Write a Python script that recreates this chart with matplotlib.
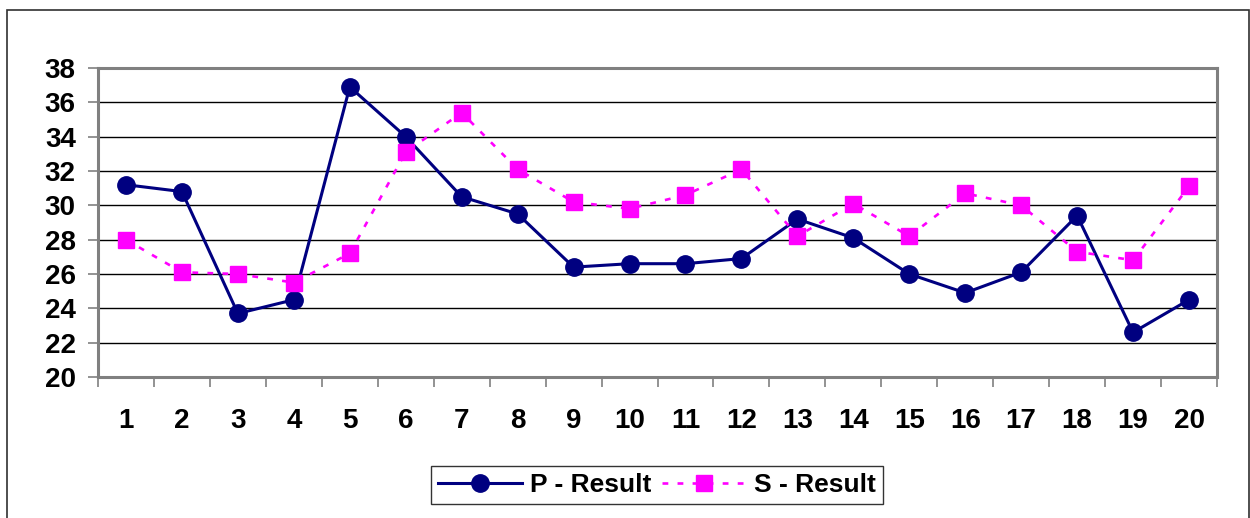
import matplotlib
matplotlib.use("Agg")
import matplotlib.pyplot as plt
from matplotlib.patches import Rectangle

categories = [str(i) for i in range(1, 21)]
p_result = [31.2, 30.8, 23.7, 24.5, 36.9, 34.0, 30.5, 29.5, 26.4, 26.6,
            26.6, 26.9, 29.2, 28.1, 26.0, 24.9, 26.1, 29.4, 22.6, 24.5]
s_result = [28.0, 26.1, 26.0, 25.5, 27.2, 33.1, 35.4, 32.1, 30.2, 29.8,
            30.6, 32.1, 28.2, 30.1, 28.2, 30.7, 30.0, 27.3, 26.8, 31.1]
y_ticks = [20, 22, 24, 26, 28, 30, 32, 34, 36, 38]

plt.rcParams['font.family'] = ['Liberation Sans', 'DejaVu Sans']

fig = plt.figure(figsize=(12.5, 5.18), dpi=100)
ax = fig.add_axes([98/1250, 1-377/518, (1217-98)/1250, (377-68)/518])

x = list(range(len(categories)))
ax.plot(x, p_result, color='#000080', lw=2.2, marker='o', ms=12.5,
        markerfacecolor='#000080', markeredgecolor='#000080', label='P - Result', zorder=3)
ax.plot(x, s_result, color='#FF00FF', lw=1.9, ls=(0, (2.2, 3.5)), marker='s', ms=12,
        markerfacecolor='#FF00FF', markeredgecolor='#FF00FF', label='S - Result', zorder=3)

ax.set_xlim(-0.5, len(categories) - 0.5)
ax.set_ylim(20, 38)
ax.set_yticks(y_ticks)
ax.set_yticklabels([str(v) for v in y_ticks], fontsize=20, fontweight='bold')
ax.set_xticks(x)
ax.set_xticklabels(categories, fontsize=20, fontweight='bold')
ax.set_xticks([i - 0.5 for i in range(len(categories) + 1)], minor=True)
ax.tick_params(axis='x', which='major', length=0, pad=22)
ax.tick_params(axis='x', which='minor', length=7, width=1.2, color='#808080', direction='out')
ax.tick_params(axis='y', length=7, width=1.2, color='#808080', direction='out', pad=9)

ax.grid(axis='y', color='black', lw=1.0, zorder=0)
ax.set_axisbelow(True)
for s in ax.spines.values():
    s.set_color('#808080')
    s.set_linewidth(2.2)

leg = ax.legend(loc='center', bbox_to_anchor=(657/1250, 1-485/518),
                bbox_transform=fig.transFigure, ncol=2, frameon=True,
                fancybox=False, edgecolor='black', handlelength=3.2,
                columnspacing=0.4, handletextpad=0.3, borderpad=0.25,
                prop={'size': 19, 'weight': 'bold'})
leg.get_frame().set_linewidth(1.0)

fig.patches.append(Rectangle((7/1250, -0.1), (1249-7)/1250, 1.1 - 10/518,
                             transform=fig.transFigure, fill=False,
                             edgecolor='#303030', lw=1.2))

fig.savefig('out.png', dpi=100)
